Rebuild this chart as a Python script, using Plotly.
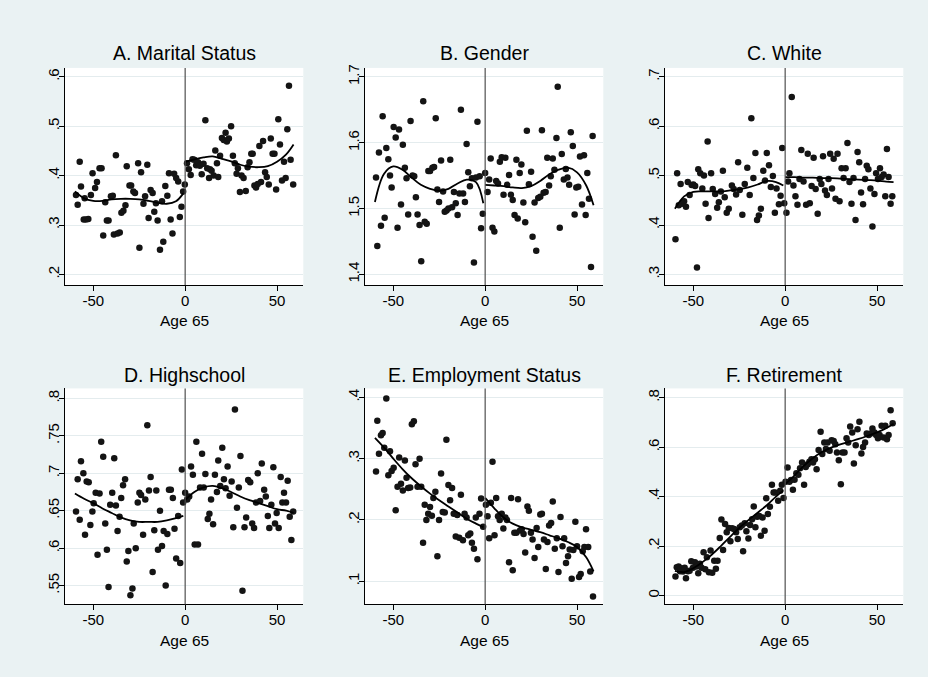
import plotly.graph_objects as go

# ---------------- data ----------------
titles = ["A. Marital Status", "B. Gender", "C. White",
          "D. Highschool", "E. Employment Status", "F. Retirement"]
xlabel = "Age 65"
xticks = [-50, 0, 50]

yticks_A = [0.2, 0.3, 0.4, 0.5, 0.6]
ylabels_A = [".2", ".3", ".4", ".5", ".6"]
yticks_B = [1.4, 1.5, 1.6, 1.7]
ylabels_B = ["1.4", "1.5", "1.6", "1.7"]
yticks_C = [0.3, 0.4, 0.5, 0.6, 0.7]
ylabels_C = [".3", ".4", ".5", ".6", ".7"]
yticks_D = [0.55, 0.6, 0.65, 0.7, 0.75, 0.8]
ylabels_D = [".55", ".6", ".65", ".7", ".75", ".8"]
yticks_E = [0.1, 0.2, 0.3, 0.4]
ylabels_E = [".1", ".2", ".3", ".4"]
yticks_F = [0, 0.2, 0.4, 0.6, 0.8]
ylabels_F = ["0", ".2", ".4", ".6", ".8"]

# scatter points (x = age relative to 65, y = outcome)
pts_A = [(-59.4,.361),(-58.5,.341),(-57.4,.428),(-56.7,.378),(-55.2,.311),(-54.7,.354),(-54,.311),(-52.7,.312),
         (-51.3,.361),(-50.4,.405),(-49,.375),(-48,.387),(-46.6,.415),(-45.5,.415),(-44.6,.279),(-43.5,.346),
         (-42.6,.309),(-41.7,.309),(-40.4,.358),(-39.4,.359),(-38.8,.281),(-37.7,.441),(-36.8,.283),(-35.6,.285),
         (-34.7,.325),(-33.6,.329),(-32.5,.340),(-31.8,.419),(-30.3,.380),(-29.4,.380),(-28.2,.368),(-27.3,.365),
         (-25.6,.425),(-24.9,.254),(-24,.407),(-22.7,.343),(-21.8,.358),(-20.6,.422),(-19.9,.314),(-18.8,.371),
         (-17.7,.365),(-16.8,.327),(-15.9,.344),(-15,.309),(-13.7,.250),(-12.6,.348),(-11.9,.266),(-10.8,.379),
         (-9.7,.359),(-8.8,.405),(-7.9,.311),(-6.9,.283),(-6,.404),(-4.9,.395),(-3.8,.388),(-2.9,.316),
         (-2,.337),(-1.1,.368),(-0.2,.382),
         (1,.425),(2,.413),(3,.401),(4,.433),(5,.432),(6,.421),(7,.427),(8,.42),(9,.403),(10,.424),(11,.512),
         (12,.415),(13,.395),(13.5,.413),(14.4,.41),(15.5,.40),(16.4,.451),(17.3,.425),(18,.397),(19,.44),
         (20,.476),(21,.472),(22,.487),(22.7,.469),(23.8,.475),(25,.50),(26,.44),(27,.425),(28,.404),
         (28.7,.415),(29.8,.367),(30.7,.40),(31.8,.395),(33,.369),(34,.417),(35,.427),(36,.444),(36.8,.444),
         (37.7,.38),(38.6,.376),(39.5,.383),(40.4,.46),(41.3,.387),(42.4,.47),(43.5,.407),(44.4,.397),
         (45.5,.382),(46.6,.475),(47.6,.444),(48.6,.444),(49.5,.372),(50.7,.514),(51.6,.463),(52.7,.39),
         (53.8,.428),(54.7,.395),(55.6,.494),(56.5,.582),(57.4,.432),(58.8,.382)]

pts_B = [(-59.4,1.547),(-58.7,1.443),(-57.8,1.585),(-56.7,1.474),(-55.8,1.640),(-54.7,1.486),(-53.8,1.592),
         (-52.7,1.575),(-51.8,1.55),(-50.9,1.532),(-49.8,1.624),(-48.7,1.608),(-47.7,1.471),(-46.9,1.62),
         (-45.8,1.506),(-44.8,1.597),(-43.7,1.562),(-42.8,1.546),(-41.9,1.491),(-40.6,1.633),(-39.5,1.55),
         (-38.6,1.549),(-37.7,1.517),(-36.8,1.491),(-35.7,1.475),(-34.8,1.42),(-33.7,1.663),(-32.9,1.48),
         (-31.8,1.477),(-30.9,1.557),(-30,1.557),(-28.7,1.562),(-27.8,1.563),(-26.9,1.637),(-26,1.529),
         (-25.1,1.51),(-24,1.573),(-22.9,1.526),(-22,1.495),(-21,1.497),(-20,1.5),(-19,1.574),(-18,1.502),
         (-17,1.525),(-16,1.508),(-15,1.49),(-14,1.523),(-13.2,1.65),(-12,1.523),(-11,1.51),(-10.1,1.598),
         (-9.2,1.555),(-8.3,1.534),(-7.2,1.546),(-6.1,1.418),(-5,1.547),(-4.2,1.632),(-3,1.549),(-2.2,1.47),
         (-1.3,1.492),
         (0,1.554),(1.3,1.525),(2.2,1.544),(3,1.576),(4,1.471),(5,1.465),(6,1.542),(7,1.538),(8,1.571),
         (9,1.578),(10,1.521),(11,1.577),(12,1.536),(13,1.551),(14,1.521),(15,1.513),(16,1.49),(17,1.574),
         (17.7,1.485),(18.8,1.554),(19.7,1.567),(20.8,1.509),(21.8,1.479),(22.7,1.618),(23.8,1.537),(25,1.556),
         (25.8,1.457),(26.9,1.509),(27.8,1.436),(28.9,1.516),(30,1.518),(30.9,1.619),(31.8,1.524),(32.9,1.525),
         (33.8,1.577),(34.8,1.535),(35.7,1.549),(36.8,1.576),(37.7,1.559),(38.8,1.607),(39.5,1.685),
         (40.6,1.471),(41.7,1.583),(42.8,1.544),(43.9,1.56),(44.8,1.547),(45.7,1.536),(46.6,1.616),(47.7,1.595),
         (48.7,1.491),(49.6,1.532),(50.7,1.533),(51.6,1.579),(52.7,1.506),(53.8,1.581),(54.7,1.49),(55.6,1.554),
         (56.5,1.515),(57.6,1.411),(58.5,1.61)]

pts_C = [(-59.7,.371),(-58.8,.505),(-57.9,.44),(-56.9,.483),(-56.1,.443),(-55,.448),(-54,.437),(-53,.487),
         (-52,.461),(-50.9,.481),(-50,.482),(-49,.479),(-48,.314),(-47.3,.513),(-46.2,.505),(-45.1,.474),
         (-44.2,.5),(-43.3,.443),(-42.2,.569),(-41.7,.414),(-40.3,.505),(-39.4,.473),(-38.1,.463),(-37,.435),
         (-36.1,.446),(-35,.468),(-33.9,.51),(-32.9,.456),(-31.8,.425),(-30.7,.433),(-29,.48),(-28,.473),
         (-26.7,.462),(-25.6,.527),(-24.7,.471),(-23.3,.421),(-22,.483),(-20.6,.516),(-19.3,.461),(-18.4,.616),
         (-17.3,.495),(-16.2,.546),(-15.3,.41),(-14.3,.419),(-13.2,.433),(-11.9,.51),(-11,.49),(-10,.546),
         (-8.8,.521),(-7.8,.477),(-6.7,.499),(-5.6,.425),(-4.7,.474),(-3.4,.442),(-2.5,.459),(-1.6,.556),
         (-0.5,.444),
         (0.7,.425),(1.6,.488),(2.3,.505),(3.6,.659),(4.5,.48),(5.6,.458),(6.7,.441),(7.8,.493),(8.8,.552),
         (10,.488),(11.4,.441),(12.3,.544),(13.4,.444),(14.4,.479),(15.5,.536),(16.6,.473),(17.7,.423),
         (18.8,.493),(19.7,.483),(20.6,.539),(21.7,.47),(22.7,.461),(23.6,.493),(24.5,.544),(25.5,.474),
         (26.4,.534),(27.4,.453),(28.5,.544),(29.6,.448),(30.7,.515),(31.8,.495),(32.9,.515),(33.9,.566),
         (35,.487),(36.1,.443),(37.2,.495),(38.3,.41),(39.4,.548),(40.3,.527),(41.3,.466),(42.4,.442),
         (43.5,.493),(44.4,.52),(45.3,.513),(46.4,.474),(47.5,.397),(48.6,.463),(49.5,.505),(50.5,.493),
         (51.6,.515),(52.5,.497),(53.6,.502),(54.5,.458),(55.4,.554),(56.3,.497),(57.4,.443),(58.3,.458)]

pts_D = [(-59.4,.649),(-58.5,.692),(-57.4,.638),(-56.7,.716),(-55.4,.700),(-54.5,.618),(-53.6,.689),(-52.5,.688),
         (-51.6,.631),(-50.5,.649),(-49.8,.66),(-48.7,.674),(-47.7,.591),(-46.6,.673),(-45.7,.742),(-44.6,.722),
         (-43.5,.633),(-42.6,.598),(-41.7,.548),(-40.8,.658),(-39.7,.674),(-38.6,.720),(-37.7,.657),(-36.8,.623),
         (-35.7,.642),(-34.8,.667),(-33.8,.684),(-32.7,.692),(-31.8,.582),(-30.9,.596),(-29.8,.537),(-28.7,.546),
         (-28,.633),(-26.9,.6),(-25.8,.661),(-24.9,.674),(-24,.671),(-22.9,.618),(-21.7,.665),(-20.6,.764),
         (-19.7,.677),(-18.8,.695),(-17.7,.568),(-16.8,.624),(-15.7,.677),(-14.8,.598),(-13.7,.65),(-12.6,.603),
         (-11.7,.623),(-10.6,.55),(-9.7,.619),(-8.8,.678),(-7.8,.678),(-6.7,.667),(-5.8,.626),(-4.9,.586),
         (-3.8,.643),(-2.7,.580),(-1.8,.705),(-1.1,.661),
         (0,.674),(1.1,.665),(2.2,.669),(3.2,.709),(4.2,.698),(5.2,.605),(6.1,.742),(7,.605),(8.1,.681),
         (9.2,.726),(10.1,.681),(11,.699),(12.3,.639),(13.2,.646),(14.1,.665),(15.2,.632),(16.2,.698),
         (17.3,.675),(18,.717),(19.1,.683),(20.2,.734),(21.1,.692),(22,.680),(23.1,.709),(24.2,.670),
         (25.3,.689),(26.2,.628),(27.1,.785),(28.2,.654),(29.2,.681),(30.1,.723),(31.2,.543),(32.3,.628),
         (33.2,.641),(34.3,.691),(35.4,.688),(36.5,.633),(37.5,.627),(38.6,.661),(39.5,.700),(40.8,.663),
         (41.7,.713),(43,.678),(43.9,.669),(45,.643),(45.8,.627),(46.9,.658),(48,.708),(48.9,.633),(49.8,.647),
         (50.9,.627),(52,.695),(52.9,.661),(53.8,.674),(54.9,.661),(55.8,.690),(56.9,.642),(57.8,.611),(58.8,.649)]

pts_E = [(-59.4,.279),(-58.7,.362),(-57.8,.308),(-56.7,.338),(-55.8,.342),(-54.9,.318),(-53.8,.398),(-52.7,.273),
         (-51.8,.312),(-50.9,.28),(-49.8,.285),(-48.7,.216),(-47.7,.254),(-46.8,.302),(-45.8,.259),(-44.8,.248),
         (-43.7,.297),(-42.8,.269),(-41.9,.252),(-40.8,.253),(-39.9,.356),(-38.8,.361),(-37.9,.291),(-36.8,.254),
         (-35.7,.3),(-34.8,.254),(-33.8,.163),(-32.9,.225),(-32,.2),(-31,.21),(-30,.221),(-29,.207),(-28.2,.236),
         (-27.1,.246),(-26,.141),(-25.1,.2),(-24,.276),(-23.1,.213),(-22,.212),(-21.1,.331),(-20,.257),
         (-19.1,.232),(-18,.252),(-17.1,.21),(-16,.173),(-15.2,.208),(-14.1,.171),(-13.2,.241),(-12.1,.167),
         (-11.2,.21),(-10.1,.204),(-9.2,.175),(-8.1,.178),(-7.2,.163),(-6.1,.153),(-5.1,.204),(-4.2,.136),
         (-3.1,.21),(-2.2,.235),(-1.1,.189),
         (0.4,.225),(1.3,.206),(2.2,.17),(3.1,.228),(4,.295),(5.1,.175),(6,.236),(7,.206),(7.9,.2),(9,.21),
         (9.9,.186),(11,.204),(11.9,.2),(13,.131),(14.1,.236),(15,.118),(15.9,.179),(17,.179),(17.9,.234),
         (19,.183),(19.9,.185),(20.9,.177),(21.8,.147),(23,.222),(23.8,.215),(24.9,.179),(25.8,.168),(26.9,.138),
         (28,.187),(28.9,.156),(30,.209),(30.9,.21),(32,.168),(33,.12),(33.9,.164),(34.8,.191),(35.9,.195),
         (36.8,.23),(37.9,.153),(39,.17),(39.9,.115),(41,.205),(42.1,.157),(43,.17),(44,.13),(45.1,.141),
         (46,.152),(47.1,.104),(48,.151),(49.1,.197),(50,.157),(51.1,.107),(52,.112),(53.1,.149),(54,.156),
         (54.9,.185),(56.1,.156),(57.2,.116),(58.7,.075)]

pts_F = [(-59.7,.077),(-59,.114),(-58,.117),(-57.2,.098),(-56.7,.11),(-55.6,.097),(-54.7,.112),(-54,.07),
         (-52.9,.098),(-52,.1),(-51.1,.139),(-50.2,.112),(-49.1,.135),(-48.2,.117),(-47.3,.09),(-46.4,.128),
         (-45.5,.112),(-44.4,.175),(-43.5,.106),(-42.6,.155),(-41.5,.094),(-40.6,.182),(-39.7,.092),(-38.6,.141),
         (-37.7,.108),(-36.8,.141),(-35.6,.233),(-34.7,.307),(-33.8,.184),(-32.7,.289),(-31.8,.256),(-30.7,.273),
         (-29.8,.219),(-28.9,.272),(-27.8,.269),(-26.7,.256),(-25.8,.229),(-24.7,.276),(-23.6,.283),(-22.9,.179),
         (-22,.292),(-21.1,.26),(-20,.231),(-19.1,.285),(-18,.308),(-17.1,.36),(-16.2,.276),(-15.2,.319),
         (-14.1,.322),(-13.2,.242),(-12.3,.316),(-11.2,.262),(-10.3,.393),(-9.4,.33),(-8.3,.359),(-7.2,.448),
         (-6.3,.417),(-5.4,.417),(-3.8,.383),(-2.7,.424),(-1.8,.448),(-0.9,.394),
         (0.2,.46),(1.3,.518),(2.3,.46),(3.2,.467),(4.2,.428),(5.1,.468),(6.1,.494),(7.2,.488),(8.1,.515),
         (9.2,.538),(10.3,.448),(11.2,.52),(12.3,.531),(13.2,.541),(14.3,.551),(15.2,.538),(16.2,.551),
         (17.1,.511),(18.2,.588),(19.3,.662),(20.2,.572),(21.3,.619),(22.2,.592),(23.1,.619),(24.2,.585),
         (25.3,.628),(26.4,.625),(27.3,.612),(28.2,.578),(29.2,.547),(30.3,.45),(31.2,.578),(32.3,.578),
         (33.4,.636),(34.3,.619),(35.4,.683),(36.5,.659),(37.4,.534),(38.4,.608),(39.4,.672),(40.4,.703),
         (41.5,.574),(42.4,.601),(43.5,.619),(44.4,.655),(45.5,.649),(46.6,.655),(47.5,.675),(48.6,.659),
         (49.5,.649),(50.5,.636),(51.4,.649),(52.5,.686),(53.6,.639),(54.5,.686),(55.4,.632),(56.3,.649),
         (57.4,.749),(58.5,.697)]

# fitted curves, read at grid points (left of cutoff / right of cutoff)
fit_x_left = [-60, -55, -50, -45, -40, -35, -30, -25, -20, -15, -10, -5, -1]
fit_x_right = [0, 5, 10, 15, 20, 25, 30, 35, 40, 45, 50, 55, 59]

fitL_A = [.368, .354, .349, .349, .352, .353, .353, .352, .349, .345, .343, .348, .364]
fitR_A = [.428, .433, .437, .439, .434, .429, .422, .418, .417, .419, .428, .443, .463]
fitL_B = [1.51, 1.553, 1.564, 1.559, 1.547, 1.536, 1.530, 1.527, 1.530, 1.538, 1.544, 1.540, 1.508]
fitR_B = [1.536, 1.535, 1.534, 1.532, 1.531, 1.534, 1.542, 1.552, 1.559, 1.562, 1.555, 1.535, 1.505]
fitL_C = [.433, .458, .467, .468, .468, .468, .470, .472, .476, .482, .489, .487, .480]
fitR_C = [.497, .497, .496, .496, .495, .495, .494, .493, .492, .491, .490, .488, .487]
fitL_D = [.673, .666, .660, .653, .647, .641, .637, .635, .635, .635, .637, .640, .643]
fitR_D = [.664, .675, .681, .683, .680, .675, .669, .664, .660, .656, .652, .650, .647]
fitL_E = [.334, .318, .300, .283, .268, .255, .243, .232, .222, .212, .202, .194, .188]
fitR_E = [.236, .219, .204, .194, .188, .184, .180, .175, .170, .164, .156, .139, .116]
fitL_F = [.100, .095, .110, .135, .165, .200, .237, .273, .305, .335, .365, .400, .425]
fitR_F = [.450, .485, .523, .555, .580, .598, .611, .622, .633, .646, .660, .677, .695]

# ---------------- figure ----------------
W, H = 928, 677
BG = "#EAF2F3"
FONT = "Liberation Sans, Arial, sans-serif"

panels = [
    (pts_A, fitL_A, fitR_A, yticks_A, ylabels_A, [0.1785, 0.618]),
    (pts_B, fitL_B, fitR_B, yticks_B, ylabels_B, [1.3838, 1.7136]),
    (pts_C, fitL_C, fitR_C, yticks_C, ylabels_C, [0.2785, 0.718]),
    (pts_D, fitL_D, fitR_D, yticks_D, ylabels_D, [0.5248, 0.8133]),
    (pts_E, fitL_E, fitR_E, yticks_E, ylabels_E, [0.0622, 0.4146]),
    (pts_F, fitL_F, fitR_F, yticks_F, ylabels_F, [-0.036, 0.8374]),
]

col_px = [(65, 303.3), (365, 603.3), (665, 903.3)]
row_px = [(64.3, 282.7), (386.7, 604.0)]
title_y = [49.5, 373]
xtitle_y = [318.5, 640.5]

fig = go.Figure()
annotations = []
shapes = []

for i, (pts, fl, fr, yt, yl, yr) in enumerate(panels):
    r, c = divmod(i, 3)
    sfx = "" if i == 0 else str(i + 1)
    xa, ya = "x" + sfx, "y" + sfx
    x0, x1 = col_px[c]
    y0, y1 = row_px[r]

    xs = [p[0] for p in pts]
    ys = [p[1] for p in pts]
    fig.add_trace(go.Scatter(x=xs, y=ys, mode="markers", xaxis=xa, yaxis=ya,
                             marker=dict(size=6.5, color="#141414", line=dict(width=0)),
                             showlegend=False, hoverinfo="x+y"))
    fig.add_trace(go.Scatter(x=fit_x_left, y=fl, mode="lines", xaxis=xa, yaxis=ya,
                             line=dict(color="black", width=1.8, shape="spline"),
                             showlegend=False, hoverinfo="skip"))
    fig.add_trace(go.Scatter(x=fit_x_right, y=fr, mode="lines", xaxis=xa, yaxis=ya,
                             line=dict(color="black", width=1.8, shape="spline"),
                             showlegend=False, hoverinfo="skip"))

    fig.layout["xaxis" + sfx] = dict(
        domain=[x0 / W, x1 / W], anchor=ya, range=[-65.4, 64.3],
        tickmode="array", tickvals=xticks, ticktext=[str(v) for v in xticks],
        showgrid=False, zeroline=False, showline=True, linecolor="black", linewidth=1,
        ticks="outside", ticklen=5, tickcolor="black", tickwidth=1, ticklabelstandoff=-3,
        tickfont=dict(family=FONT, size=15, color="black"), fixedrange=True)
    fig.layout["yaxis" + sfx] = dict(
        domain=[1 - y1 / H, 1 - y0 / H], anchor=xa, range=yr,
        tickmode="array", tickvals=yt, ticktext=yl, tickangle=-90,
        showgrid=True, gridcolor="#E4ECEE", gridwidth=1,
        zeroline=False, showline=True, linecolor="black", linewidth=1,
        ticks="outside", ticklen=5, tickcolor="black", tickwidth=1, ticklabelstandoff=-6,
        tickfont=dict(family=FONT, size=15, color="black"), fixedrange=True)

    # vertical reference line at the age-65 cutoff
    shapes.append(dict(type="line", xref=xa, yref=ya + " domain", x0=0, x1=0, y0=0, y1=1,
                       line=dict(color="#505050", width=1.2), layer="above"))

    cx = (x0 + x1) / 2 / W
    annotations.append(dict(text=titles[i], x=cx, y=1 - title_y[r] / H, xref="paper", yref="paper",
                            xanchor="center", yanchor="middle", showarrow=False,
                            font=dict(family=FONT, size=19.5, color="black")))
    annotations.append(dict(text=xlabel, x=cx, y=1 - xtitle_y[r] / H, xref="paper", yref="paper",
                            xanchor="center", yanchor="middle", showarrow=False,
                            font=dict(family=FONT, size=15.5, color="black")))

fig.update_layout(width=W, height=H, margin=dict(l=0, r=0, t=0, b=0),
                  paper_bgcolor=BG, plot_bgcolor="white",
                  annotations=annotations, shapes=shapes, showlegend=False,
                  font=dict(family=FONT))

fig.write_html("out.html")
